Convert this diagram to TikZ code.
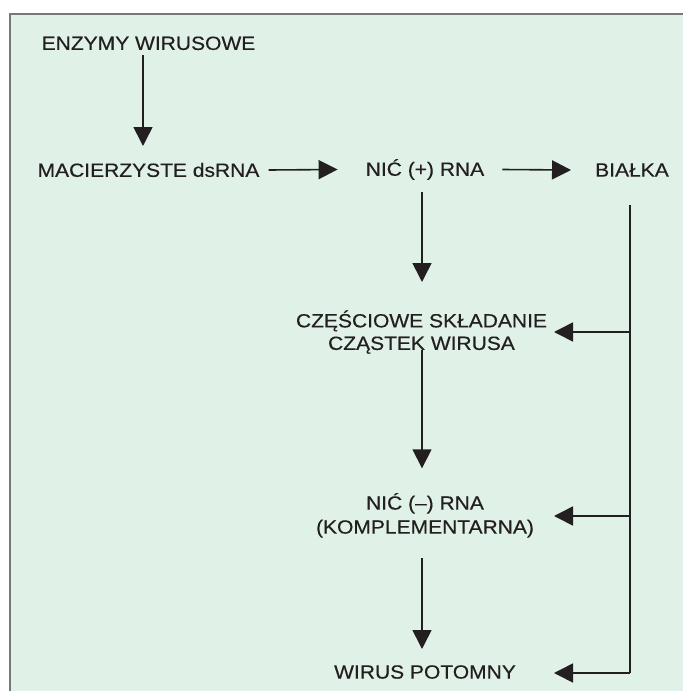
\documentclass[tikz,border=0pt]{standalone}
\usepackage{fontspec}
\setmainfont{Liberation Sans}
\newfontfamily\labfont[FakeStretch=1.1,FakeBold=0.4]{Liberation Sans}
\usetikzlibrary{arrows.meta,calc}
\definecolor{bg}{RGB}{224,241,231}
\definecolor{framec}{RGB}{120,120,120}
\definecolor{ink}{RGB}{35,31,32}
\begin{document}
\begin{tikzpicture}[x=1pt,y=-1pt,
  lab/.style={inner sep=0pt, font=\labfont\fontsize{19.1}{22.5}\selectfont, text=ink, align=center},
  arr/.style={draw=ink, line width=1.6pt, -{Triangle[length=19pt,width=19pt]}},
  ln/.style={draw=ink, line width=1.6pt}]
\useasboundingbox (0,0) rectangle (683,691);
\fill[white] (0,0) rectangle (683,691);
\fill[bg] (10,13.5) rectangle (683,691);
\draw[framec, line width=2pt] (10,691) -- (10,13.5) -- (683,13.5);

\node[lab] (enz) at (148.5,43.3) {ENZYMY WIRUSOWE};
\node[lab] (mac) at (148.5,170) {MACIERZYSTE dsRNA};
\node[lab] (nic) at (425,169.5) {NIĆ (+) RNA};
\node[lab] (bia) at (632,170) {BIAŁKA};
\node[lab] (cze) at (421.5,332) {CZĘŚCIOWE SKŁADANIE\\CZĄSTEK WIRUSA};
\node[lab, font=\labfont\fontsize{19.1}{24}\selectfont] (kom) at (425,515.3) {NIĆ (–) RNA\\(KOMPLEMENTARNA)};
\node[lab] (wir) at (425,672) {WIRUS POTOMNY};

\coordinate (tipcol) at (554,0);
\coordinate (b1) at (630,332);
\coordinate (b2) at (630,516);
\coordinate (b3) at (630,673);

\draw[arr] ($(enz)+(-5.5,12)$) -- ($(mac)+(-5.5,-24)$);
\draw[arr] ($(mac.east)+(9,0)$) -- ($(nic.west)+(-28,0)$);
\draw[arr] ($(nic.east)+(18,0)$) -- ($(bia.west)+(-24,0)$);
\draw[arr] ($(nic)+(-3,22.5)$) -- ($(cze)+(0.5,-50)$);
\draw[arr] ($(cze)+(0.5,18)$) -- ($(kom)+(-3,-47)$);
\draw[arr] ($(kom)+(-3,43)$) -- ($(wir)+(-3,-23)$);

\draw[ln] ($(bia)+(-2,35)$) -- (b3);
\draw[arr] (b1) -- (b1 -| tipcol);
\draw[arr] (b2) -- (b2 -| tipcol);
\draw[arr] (b3) -- (b3 -| tipcol);
\end{tikzpicture}
\end{document}
